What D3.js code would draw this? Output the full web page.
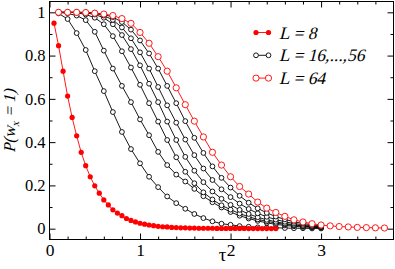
<!DOCTYPE html>
<html>
<head>
<meta charset="utf-8">
<script src="https://cdn.jsdelivr.net/npm/d3@7"></script>
<style>
  html, body { margin: 0; padding: 0; background: #fff; }
  svg { display: block; }
</style>
</head>
<body>
<div id="chart"></div>
<script>
// tau grids
var tauFine = [0.05, 0.1, 0.15, 0.2, 0.25, 0.3, 0.35, 0.4, 0.45, 0.5,
    0.55, 0.6, 0.65, 0.7, 0.75, 0.8, 0.85, 0.9, 0.95, 1.0,
    1.05, 1.1, 1.15, 1.2, 1.25, 1.3, 1.35, 1.4, 1.45, 1.5,
    1.55, 1.6, 1.65, 1.7, 1.75, 1.8, 1.85, 1.9, 1.95, 2.0,
    2.05, 2.1, 2.15, 2.2, 2.25, 2.3, 2.35, 2.4, 2.45, 2.5];
var tauCoarse = [0.1, 0.2, 0.3, 0.4, 0.5, 0.6, 0.7, 0.8, 0.9, 1.0,
    1.1, 1.2, 1.3, 1.4, 1.5, 1.6, 1.7, 1.8, 1.9, 2.0,
    2.1, 2.2, 2.3, 2.4, 2.5, 2.6, 2.7, 2.8, 2.9, 3.0,
    3.1, 3.2, 3.3, 3.4, 3.5, 3.6, 3.7];

// L = 8 (filled red, on tauFine)
var pL8 = [0.95, 0.846, 0.728, 0.613, 0.514, 0.429, 0.353, 0.291, 0.240, 0.198,
    0.164, 0.133, 0.110, 0.087, 0.072, 0.060, 0.047, 0.038, 0.031, 0.025,
    0.021, 0.017, 0.014, 0.011, 0.009, 0.008, 0.006, 0.005, 0.004, 0.004,
    0.003, 0.003, 0.002, 0.002, 0.002, 0.002, 0.001, 0.001, 0.001, 0.001,
    0.001, 0.001, 0.001, 0.0005, 0.0005, 0.0005, 0.0005, 0.0005, 0.0005, 0.0005];

// L = 16..56 (open black, tau 0.1 .. 3.0)
var pL16 = [0.995, 0.969, 0.904, 0.826, 0.728, 0.636, 0.539, 0.447, 0.368, 0.302,
    0.240, 0.192, 0.149, 0.118, 0.092, 0.068, 0.049, 0.034, 0.023, 0.018,
    0.012, 0.009, 0.006, 0.005, 0.004, 0.003, 0.002, 0.002, 0.001, 0.001];
var pL24 = [1.0, 0.995, 0.985, 0.964, 0.910, 0.823, 0.740, 0.660, 0.585, 0.505,
    0.432, 0.355, 0.294, 0.250, 0.218, 0.184, 0.150, 0.122, 0.098, 0.077,
    0.060, 0.047, 0.036, 0.027, 0.020, 0.015, 0.011, 0.008, 0.006, 0.004];
var pL32 = [1.0, 1.0, 0.998, 0.99, 0.975, 0.945, 0.89, 0.82, 0.745, 0.665,
    0.58, 0.495, 0.41, 0.33, 0.263, 0.21, 0.168, 0.135, 0.108, 0.088,
    0.07, 0.055, 0.043, 0.034, 0.026, 0.02, 0.015, 0.011, 0.008, 0.006];
var pL40 = [1.0, 1.0, 1.0, 0.998, 0.99, 0.975, 0.945, 0.895, 0.83, 0.755,
    0.67, 0.585, 0.495, 0.41, 0.332, 0.268, 0.215, 0.172, 0.138, 0.11,
    0.087, 0.068, 0.053, 0.041, 0.032, 0.024, 0.018, 0.013, 0.01, 0.007];
var pL48 = [1.0, 1.0, 1.0, 0.999, 0.995, 0.985, 0.965, 0.93, 0.88, 0.815,
    0.74, 0.655, 0.57, 0.49, 0.412, 0.34, 0.278, 0.225, 0.182, 0.146,
    0.116, 0.091, 0.071, 0.055, 0.042, 0.032, 0.024, 0.018, 0.013, 0.009];
var pL56 = [1.0, 1.0, 1.0, 1.0, 0.998, 0.99, 0.978, 0.955, 0.92, 0.87,
    0.81, 0.74, 0.66, 0.58, 0.497, 0.42, 0.35, 0.288, 0.235, 0.19,
    0.152, 0.12, 0.094, 0.073, 0.056, 0.043, 0.032, 0.024, 0.018, 0.013];

// L = 64 (open red, tau 0.1 .. 3.7)
var pL64 = [1.0, 1.0, 1.0, 0.999, 0.996, 0.992, 0.985, 0.971, 0.949, 0.907,
    0.857, 0.795, 0.728, 0.651, 0.573, 0.497, 0.424, 0.353, 0.294, 0.240,
    0.195, 0.160, 0.123, 0.095, 0.075, 0.057, 0.041, 0.031, 0.023, 0.017,
    0.013, 0.010, 0.008, 0.006, 0.005, 0.004, 0.003];

var xMajor = [0, 1, 2, 3];
var xMinor = [0.2, 0.4, 0.6, 0.8, 1.2, 1.4, 1.6, 1.8, 2.2, 2.4, 2.6, 2.8, 3.2, 3.4, 3.6];
var yMajor = [0, 0.2, 0.4, 0.6, 0.8, 1];
var yMinor = [0.1, 0.3, 0.5, 0.7, 0.9];

var legendLabels = ["L = 8", "L = 16,...,56", "L = 64"];

(function () {
    'use strict';
    var width = 395, height = 269,
        pLeft = 49.5, pRight = 393.5, pTop = 1.5, pBottom = 239.5,
        serif = "'Liberation Serif', 'Times New Roman', serif",
        slant = " skewX(-14)"; // fake italic from the regular face

    var x = d3.scaleLinear().domain([0, 3.8]).range([pLeft, pRight]);
    var y = d3.scaleLinear().domain([-0.05, 1.05]).range([pBottom, pTop]);

    var svg = d3.select("#chart").append("svg")
        .attr("width", width)
        .attr("height", height)
        .style("font-family", serif);

    function zip(ts, ps) {
        return ps.map(function (p, i) { return [ts[i], p]; });
    }

    var line = d3.line()
        .x(function (d) { return x(d[0]); })
        .y(function (d) { return y(d[1]); });

    function drawSeries(pts, color, r, fill) {
        var g = svg.append("g");
        g.append("path")
            .attr("d", line(pts))
            .attr("fill", "none")
            .attr("stroke", color)
            .attr("stroke-width", 0.9);
        g.selectAll("circle")
            .data(pts)
            .enter()
            .append("circle")
            .attr("cx", function (d) { return x(d[0]); })
            .attr("cy", function (d) { return y(d[1]); })
            .attr("r", r)
            .attr("fill", fill)
            .attr("stroke", color)
            .attr("stroke-width", fill === color ? 0 : 0.9);
    }

    // axes, ticks point inwards
    function axisGroup(axis, tx, ty) {
        var g = svg.append("g")
            .attr("transform", "translate(" + tx + "," + ty + ")")
            .call(axis);
        g.select(".domain").remove();
        g.attr("font-family", null);
        g.selectAll("line").attr("stroke", "#000");
        g.selectAll("text").attr("fill", "#000").style("font-family", serif);
        return g;
    }

    var noLabel = function () { return ""; };
    var fmt = function (d) { return String(d); };

    var gx = axisGroup(d3.axisBottom(x).tickValues(xMajor).tickSize(-6).tickPadding(4.5).tickFormat(fmt), 0, pBottom);
    gx.attr("font-size", 17.5);
    axisGroup(d3.axisBottom(x).tickValues(xMinor).tickSize(-3).tickFormat(noLabel), 0, pBottom);
    axisGroup(d3.axisTop(x).tickValues(xMajor).tickSize(-6).tickFormat(noLabel), 0, pTop);
    axisGroup(d3.axisTop(x).tickValues(xMinor).tickSize(-3).tickFormat(noLabel), 0, pTop);

    var gy = axisGroup(d3.axisLeft(y).tickValues(yMajor).tickSize(-6).tickPadding(4).tickFormat(fmt), pLeft, 0);
    gy.attr("font-size", 16.5);
    axisGroup(d3.axisLeft(y).tickValues(yMinor).tickSize(-3).tickFormat(noLabel), pLeft, 0);
    axisGroup(d3.axisRight(y).tickValues(yMajor).tickSize(-6).tickFormat(noLabel), pRight, 0);
    axisGroup(d3.axisRight(y).tickValues(yMinor).tickSize(-3).tickFormat(noLabel), pRight, 0);

    // series
    var tau30 = tauCoarse.slice(0, 30);
    [pL16, pL24, pL32, pL40, pL48, pL56].forEach(function (ps) {
        drawSeries(zip(tau30, ps), "#000", 2.4, "#fff");
    });
    drawSeries(zip(tauCoarse, pL64), "#ff0000", 3.1, "#fff");
    drawSeries(zip(tauFine, pL8), "#ff0000", 2.6, "#ff0000");

    // frame
    svg.append("rect")
        .attr("x", pLeft).attr("y", pTop)
        .attr("width", pRight - pLeft).attr("height", pBottom - pTop)
        .attr("fill", "none").attr("stroke", "#000").attr("stroke-width", 1);

    // legend
    var legendStyles = [
        { color: "#ff0000", fill: "#ff0000", r: 2.6 },
        { color: "#000", fill: "#fff", r: 2.4 },
        { color: "#ff0000", fill: "#fff", r: 3.1 }
    ];
    var legend = svg.append("g").attr("transform", "translate(256,32.5)");
    legendLabels.forEach(function (lab, i) {
        var s = legendStyles[i];
        var row = legend.append("g").attr("transform", "translate(0," + (i * 22.8) + ")");
        row.append("line")
            .attr("x1", 0).attr("x2", 12.5)
            .attr("stroke", s.color).attr("stroke-width", 0.9);
        [0, 12.5].forEach(function (cx) {
            row.append("circle")
                .attr("cx", cx).attr("r", s.r)
                .attr("fill", s.fill).attr("stroke", s.color)
                .attr("stroke-width", s.fill === s.color ? 0 : 0.9);
        });
        row.append("text")
            .attr("transform", "translate(23,6)" + slant)
            .attr("font-size", 17.5)
            .text(lab);
    });

    // axis titles
    svg.append("text")
        .attr("x", (pLeft + pRight) / 2 + 1)
        .attr("y", 261)
        .attr("text-anchor", "middle")
        .attr("font-size", 19)
        .text("\u03c4");

    var yl = svg.append("text")
        .attr("transform", "translate(14.5,121) rotate(-90)" + slant)
        .attr("text-anchor", "middle")
        .attr("font-size", 16.5);
    yl.append("tspan").text("P(w");
    yl.append("tspan").attr("dy", 4).attr("font-size", 11).text("x");
    yl.append("tspan").attr("dy", -4).text(" = 1)");
}());
</script>
</body>
</html>
